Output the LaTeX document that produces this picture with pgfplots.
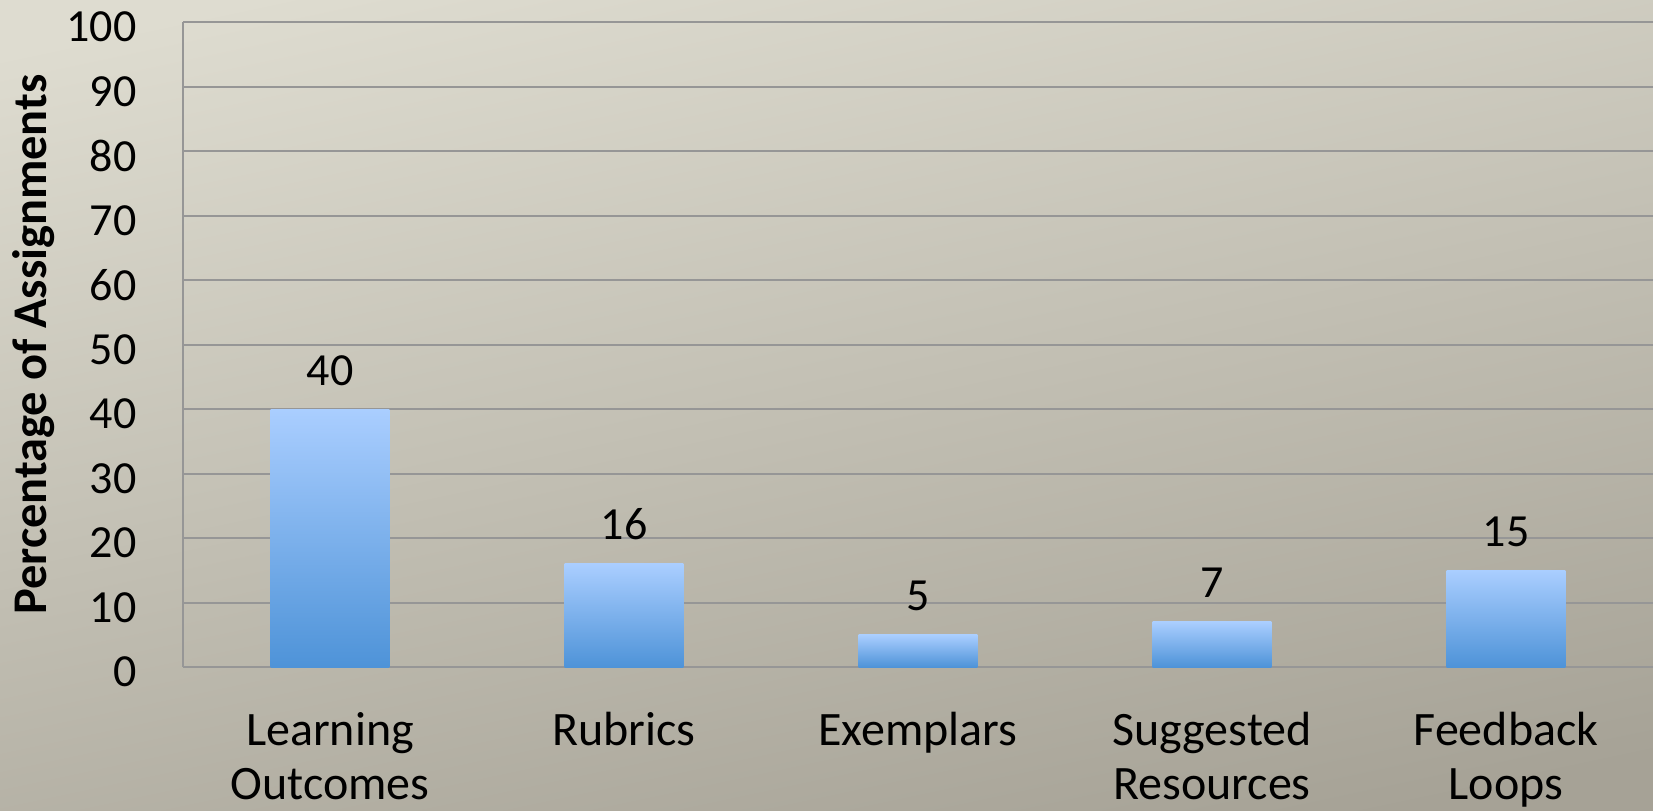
\documentclass[border=0pt]{standalone}
\usepackage{fontspec}
\setmainfont{Carlito}
\usepackage{pgfplots}
\pgfplotsset{compat=1.18}
\definecolor{bgtop}{RGB}{222,220,208}
\definecolor{bgbot}{RGB}{166,162,150}
\definecolor{bartop}{RGB}{170,206,255}
\definecolor{barbot}{RGB}{78,147,216}
\definecolor{gridc}{RGB}{150,150,150}
\begin{document}
\begin{tikzpicture}
\path[use as bounding box] (0pt,0pt) rectangle (826.5pt,405pt);
\clip (0pt,0pt) rectangle (826.5pt,405pt);
\shade[top color=bgtop, bottom color=bgbot, shading angle=12] (-20pt,-20pt) rectangle (846.5pt,425pt);
\begin{axis}[
  at={(91.5pt,71.5pt)}, anchor=south west,
  scale only axis, width=735pt, height=322.5pt,
  xmin=-0.5, xmax=4.5, ymin=0, ymax=100,
  ytick distance=10,
  xtick={0,1,2,3,4},
  xticklabels={{\rule{0pt}{19pt}Learning\\Outcomes},{\rule{0pt}{19pt}Rubrics},{\rule{0pt}{19pt}Exemplars},{\rule{0pt}{19pt}Suggested\\Resources},{\rule{0pt}{19pt}Feedback\\Loops}},
  xticklabel style={anchor=north, inner sep=0pt, yshift=-20pt, align=center, font=\fontsize{24}{27.2}\selectfont},
  yticklabel style={anchor=east, inner sep=0pt, xshift=-23pt, yshift=-2.5pt, font=\fontsize{23}{28}\selectfont},
  /pgf/number format/assume math mode=true,
  major tick length=0pt,
  axis x line*=bottom, axis y line*=left,
  axis line style={gridc, line width=1pt, -},
  ymajorgrids, grid style={gridc, line width=1pt},
  every axis y label/.style={at={(axis description cs:0,0.5)}, xshift=-68pt, rotate=90, anchor=base, font=\fontsize{24.2}{28}\selectfont\bfseries},
  ylabel={Percentage of Assignments},
  ybar, bar width=59.3pt, bar shift=0pt,
  nodes near coords,
  every node near coord/.append style={anchor=base, inner sep=0pt, yshift=12pt, font=\fontsize{23}{28}\selectfont, black},
  clip=false,
]
\addplot[draw=none, top color=bartop, bottom color=barbot] coordinates {(0,40)};
\addplot[draw=none, top color=bartop, bottom color=barbot] coordinates {(1,16)};
\addplot[draw=none, top color=bartop, bottom color=barbot] coordinates {(2,5)};
\addplot[draw=none, top color=bartop, bottom color=barbot] coordinates {(3,7)};
\addplot[draw=none, top color=bartop, bottom color=barbot] coordinates {(4,15)};
\end{axis}
\end{tikzpicture}
\end{document}
